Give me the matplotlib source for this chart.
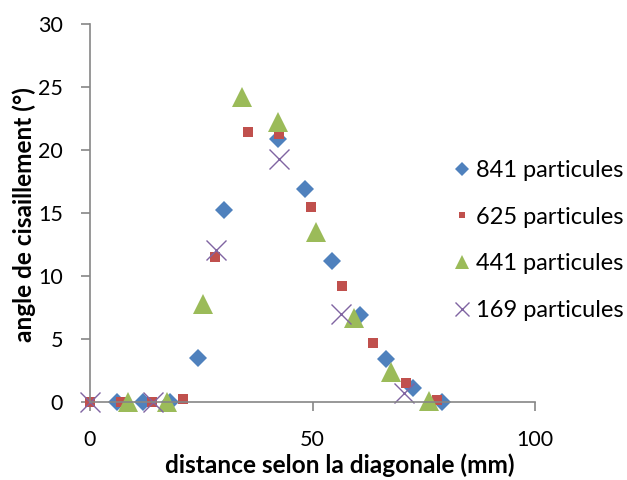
import matplotlib
matplotlib.use("Agg")
import matplotlib.pyplot as plt

plt.rcParams['font.family'] = ['Lato', 'DejaVu Sans']

# data
x_841 = [6, 12, 18, 24.2, 30.1, 42.3, 48.3, 54.3, 60.6, 66.5, 72.5, 79.0]
y_841 = [0, 0, 0, 3.5, 15.2, 20.9, 16.9, 11.2, 6.9, 3.4, 1.1, 0]

x_625 = [0, 7, 14, 21, 28, 35.5, 42.4, 49.6, 56.6, 63.5, 70.9, 77.9]
y_625 = [0, 0, 0, 0.25, 11.5, 21.4, 21.3, 15.5, 9.2, 4.7, 1.5, 0.15]

x_441 = [8.5, 17.2, 25.4, 34.1, 42.2, 50.8, 59.3, 67.6, 76.1]
y_441 = [0, 0, 7.8, 24.2, 22.2, 13.5, 6.7, 2.4, 0.1]

x_169 = [0, 14.2, 28.3, 42.5, 56.5, 70.5]
y_169 = [0, 0, 12.1, 19.3, 7.0, 0.7]

labels = ["841 particules", "625 particules", "441 particules", "169 particules"]
x_ticks = [0, 50, 100]
y_ticks = [0, 5, 10, 15, 20, 25, 30]


def fit_size(fig, txt, target_px, vertical=False):
    # scale the font so the label covers the same length as in the reference
    fig.canvas.draw()
    bb = txt.get_window_extent()
    cur = bb.height if vertical else bb.width
    txt.set_fontsize(txt.get_fontsize() * target_px / cur)


def main() -> None:
    fig = plt.figure(figsize=(6.27, 4.8), dpi=100)
    ax = fig.add_axes([90 / 627, 1 - 402 / 480, 445 / 627, 378 / 480])

    ax.plot(x_841, y_841, 'D', color="#4F81BD", ms=9.5, mew=0, clip_on=False, label=labels[0])
    ax.plot(x_625, y_625, 's', color="#C0504D", ms=6.7, mew=0, clip_on=False, label=labels[1])
    ax.plot(x_441, y_441, '^', color="#9BBB59", ms=14, mew=0, clip_on=False, label=labels[2])
    ax.plot(x_169, y_169, 'x', color="#8064A2", ms=14, mew=1.0, clip_on=False, label=labels[3])

    ax.set_xlim(0, 100)
    ax.set_ylim(0, 30)
    ax.set_xticks(x_ticks)
    ax.set_yticks(y_ticks)

    for side in ['top', 'right']:
        ax.spines[side].set_visible(False)
    for side in ['left', 'bottom']:
        ax.spines[side].set_color("#868686")
        ax.spines[side].set_linewidth(1.2)
    ax.tick_params(axis='both', colors="#868686", width=1.2, length=6.5,
                   labelcolor="black", labelsize=15.5)
    ax.tick_params(axis='x', pad=13.5)
    ax.tick_params(axis='y', pad=13)

    xl = fig.text(340 / 627, 1 - 472.7 / 480, "distance selon la diagonale (mm)",
                  ha="center", va="baseline", fontsize=17.5, fontweight="bold")
    yl = fig.text(24 / 627, 1 - 215 / 480, "angle de cisaillement (°)", rotation=90,
                  ha="center", va="center", fontsize=15, fontweight="bold")
    fit_size(fig, xl, 348)
    fit_size(fig, yl, 256, vertical=True)

    fig.legend(loc="upper left", bbox_to_anchor=(452.6 / 627, 1 - 160 / 480),
               frameon=False, fontsize=17, markerscale=0.75, handlelength=0.8,
               handletextpad=0.2, labelspacing=1.09, borderpad=0, borderaxespad=0)

    fig.savefig("out.png", dpi=100)


if __name__ == "__main__":
    main()
